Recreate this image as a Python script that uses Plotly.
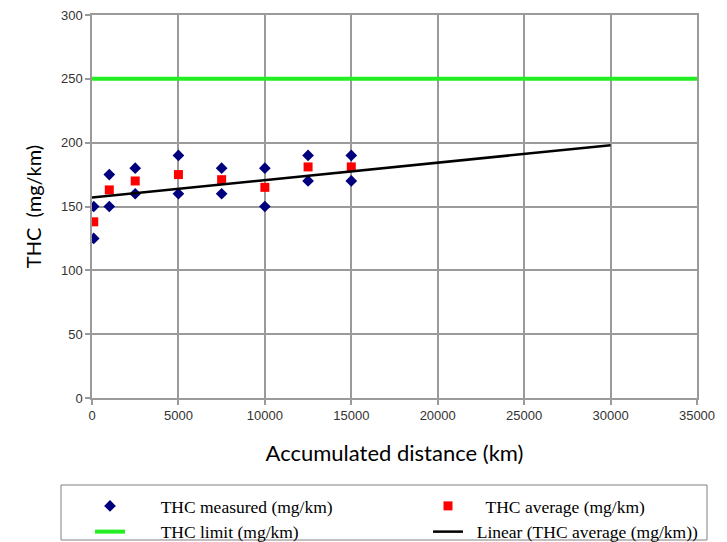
import plotly.graph_objects as go

# ---- data ----
dist_points = [100, 1000, 2500, 5000, 7500, 10000, 12500, 15000]
measured_high = [150, 175, 180, 190, 180, 180, 190, 190]
measured_low = [125, 150, 160, 160, 160, 150, 170, 170]
average = [138, 163, 170, 175, 171, 165, 181, 181]
limit_x = [0, 35000]
limit_y = [250, 250]
trend_x = [0, 30000]
trend_y = [157, 198]
x_ticks = [0, 5000, 10000, 15000, 20000, 25000, 30000, 35000]
y_ticks = [0, 50, 100, 150, 200, 250, 300]

meas_x = dist_points + dist_points
meas_y = measured_high + measured_low

OFF = 8  # page body margin in the browser
W, H = 727, 542
PL, PR, PT, PB = 92 - OFF, 697 - OFF, 15 - OFF, 398 - OFF   # plot area (figure px)
PW, PH = PR - PL, PB - PT


def px_x(p):
    return (p - OFF - PL) / PW


def px_y(p):
    return (PB - (p - OFF)) / PH


NB = "\u00a0"

fig = go.Figure()
fig.add_trace(go.Scatter(
    x=meas_x, y=meas_y, mode="markers", name=NB * 7 + "THC measured (mg/km)",
    marker=dict(symbol="diamond", size=9, color="#00007f"),
    legend="legend", legendgroup="a", legendrank=1,
))
fig.add_trace(go.Scatter(
    x=dist_points, y=average, mode="markers", name=NB * 4 + "THC average (mg/km)",
    marker=dict(symbol="square", size=9, color="#ff0000"),
    legend="legend2", legendgroup="c", legendrank=1,
))
fig.add_trace(go.Scatter(
    x=limit_x, y=limit_y, mode="lines", name=NB * 7 + "THC limit (mg/km)",
    line=dict(color="#22ee22", width=4),
    legend="legend", legendgroup="b", legendrank=2,
))
fig.add_trace(go.Scatter(
    x=trend_x, y=trend_y, mode="lines", name=NB * 2 + "Linear (THC average (mg/km))",
    line=dict(color="#000000", width=2.5),
    legend="legend2", legendgroup="d", legendrank=2,
))

axis_common = dict(
    showgrid=True, gridcolor="#9a9a9a", gridwidth=1.5,
    showline=True, linecolor="#9a9a9a", linewidth=1.5,
    ticks="outside", ticklen=5, tickcolor="#9a9a9a", tickwidth=1.5,
    tickfont=dict(family="Liberation Sans, Arial", size=13, color="#333333"),
    zeroline=False, automargin=False, ticklabeloverflow="allow",
)

fig.update_xaxes(
    range=[0, 35000], tickvals=x_ticks, ticktext=[str(v) for v in x_ticks],
    title=dict(text="Accumulated distance (km)",
               font=dict(family="Lato, Open Sans", size=22, color="#000000"),
               standoff=23),
    mirror=True,
    **axis_common,
)
fig.update_yaxes(
    range=[0, 300], tickvals=y_ticks, ticktext=[str(v) for v in y_ticks],
    title=dict(text="THC  (mg/km)",
               font=dict(family="Lato, Open Sans", size=20, color="#000000"),
               standoff=14),
    mirror=True,
    **axis_common,
)

# legend box drawn as a shape in paper coords
fig.add_shape(type="rect", xref="paper", yref="paper",
              x0=px_x(61), x1=px_x(707), y0=px_y(540), y1=px_y(485),
              line=dict(color="#808080", width=1), fillcolor="rgba(0,0,0,0)")

legend_font = dict(family="Liberation Serif, Times New Roman", size=17.5, color="#000000")
fig.update_layout(
    width=W, height=H,
    margin=dict(l=PL, r=W - PR, t=PT, b=H - PB, autoexpand=False),
    plot_bgcolor="white", paper_bgcolor="white",
    showlegend=True,
    legend=dict(
        orientation="v", x=px_x(90), y=px_y(488),
        xanchor="left", yanchor="top",
        font=legend_font, bgcolor="rgba(0,0,0,0)",
        tracegroupgap=0, itemwidth=30,
    ),
    legend2=dict(
        orientation="v", x=px_x(428), y=px_y(488),
        xanchor="left", yanchor="top",
        font=legend_font, bgcolor="rgba(0,0,0,0)",
        tracegroupgap=0, itemwidth=30,
    ),
)

fig.write_html("out.html")
